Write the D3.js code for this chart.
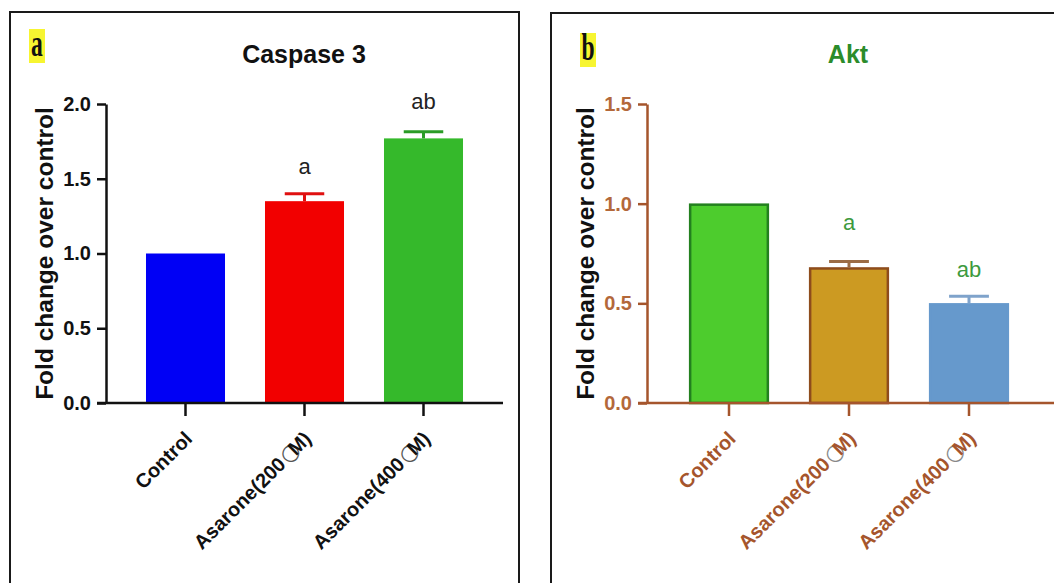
<!DOCTYPE html>
<html>
<head>
<meta charset="utf-8">
<script src="https://cdn.jsdelivr.net/npm/d3@7"></script>
<style>
  body { margin: 0; background: #fff; }
  svg { display: block; }
  text { font-family: "Liberation Sans", Arial, sans-serif; }
</style>
</head>
<body>
<div id="chart"></div>
<script>
// groups shown on both panels (the micro sign shows up as a circle in the source)
var groups = ["Control", "Asarone(200 \u00b5M)", "Asarone(400 \u00b5M)"];

// Caspase 3
var caspaseMeans = [1.0, 1.35, 1.77];
var caspaseErr = [0, 0.05, 0.045];
var caspaseSig = ["", "a", "ab"];
var caspaseTicks = [0, 0.5, 1.0, 1.5, 2.0];

// Akt
var aktMeans = [1.0, 0.68, 0.50];
var aktErr = [0, 0.03, 0.035];
var aktSig = ["", "a", "ab"];
var aktTicks = [0, 0.5, 1.0, 1.5];

var width = 1054, height = 583;

var svg = d3.select("#chart")
    .append("svg")
    .attr("width", width)
    .attr("height", height);

// panel frames (bottom runs off the picture)
svg.append("path")
    .attr("d", "M10,590V12H519V590")
    .attr("fill", "none")
    .attr("stroke", "#1a1a1a")
    .attr("stroke-width", 2);
svg.append("path")
    .attr("d", "M551,590V13H1060")
    .attr("fill", "none")
    .attr("stroke", "#1a1a1a")
    .attr("stroke-width", 2);

function drawPanel(opt) {
    var g = svg.append("g");

    var x = d3.scaleBand()
        .domain(groups)
        .range(opt.xRange)
        .paddingInner(0.336)
        .paddingOuter(0.168);

    var y = d3.scaleLinear()
        .domain([0, opt.yMax])
        .range([403, 104]);

    // panel letter with yellow highlight
    g.append("rect")
        .attr("x", opt.tag.x - 8).attr("y", opt.tag.y - 26)
        .attr("width", 16).attr("height", 34)
        .attr("fill", "#f7f531");
    g.append("text")
        .attr("transform", "translate(" + opt.tag.x + "," + (opt.tag.y + 1) + ") scale(0.62,1)")
        .attr("text-anchor", "middle")
        .style("font-family", "'Liberation Serif', 'Times New Roman', serif")
        .style("font-weight", "bold")
        .style("font-size", "38px")
        .attr("fill", "#111")
        .text(opt.tag.label);

    // title
    g.append("text")
        .attr("x", opt.titleX).attr("y", 63)
        .attr("text-anchor", "middle")
        .style("font-weight", "bold")
        .style("font-size", "25px")
        .attr("fill", opt.titleColor)
        .text(opt.title);

    // bars
    g.selectAll(".bar")
        .data(opt.means)
        .enter()
        .append("rect")
        .attr("x", function(d, i) { return x(groups[i]) + opt.barInset; })
        .attr("y", function(d) { return y(d) + opt.barInset; })
        .attr("width", x.bandwidth() - 2 * opt.barInset)
        .attr("height", function(d) { return y(0) - y(d) - opt.barInset; })
        .attr("fill", function(d, i) { return opt.fills[i]; })
        .attr("stroke", function(d, i) { return opt.strokes[i]; })
        .attr("stroke-width", opt.barStroke);

    // error bars (upper half only)
    opt.means.forEach(function(m, i) {
        if (opt.err[i] == 0) return;
        var cx = x(groups[i]) + x.bandwidth() / 2;
        var half = x.bandwidth() / 4;
        g.append("line")
            .attr("x1", cx).attr("x2", cx)
            .attr("y1", y(m)).attr("y2", y(m + opt.err[i]))
            .attr("stroke", opt.errColors[i]).attr("stroke-width", 3);
        g.append("line")
            .attr("x1", cx - half).attr("x2", cx + half)
            .attr("y1", y(m + opt.err[i])).attr("y2", y(m + opt.err[i]))
            .attr("stroke", opt.errColors[i]).attr("stroke-width", 3);
    });

    // significance letters
    g.selectAll(".sig")
        .data(opt.sig)
        .enter()
        .append("text")
        .attr("x", function(d, i) { return x(groups[i]) + x.bandwidth() / 2; })
        .attr("y", function(d, i) { return opt.sigY[i]; })
        .attr("text-anchor", "middle")
        .style("font-size", "22px")
        .attr("fill", opt.sigColor)
        .text(function(d) { return d; });

    // y axis
    var yAxis = d3.axisLeft(y)
        .tickValues(opt.ticks)
        .tickFormat(d3.format(".1f"))
        .tickSize(9)
        .tickSizeOuter(0)
        .tickPadding(6);
    var ya = g.append("g")
        .attr("transform", "translate(" + opt.axisX + ",0)")
        .call(yAxis);
    ya.select(".domain").attr("stroke", opt.axisColor).attr("stroke-width", 2.5);
    ya.selectAll(".tick line").attr("stroke", opt.axisColor).attr("stroke-width", 2.5);
    ya.selectAll(".tick text")
        .attr("fill", opt.tickTextColor)
        .style("font-family", "'Liberation Sans', Arial, sans-serif")
        .style("font-weight", "bold")
        .style("font-size", "20px");

    // x axis
    g.append("line")
        .attr("x1", opt.axisX - 9).attr("x2", opt.xEnd)
        .attr("y1", y(0)).attr("y2", y(0))
        .attr("stroke", opt.axisColor).attr("stroke-width", 2.5);
    var xAxis = d3.axisBottom(x).tickSize(13).tickSizeOuter(0).tickFormat("");
    var xa = g.append("g")
        .attr("transform", "translate(0," + y(0) + ")")
        .call(xAxis);
    xa.select(".domain").remove();
    xa.selectAll(".tick line").attr("stroke", opt.axisColor).attr("stroke-width", 2.5);

    // rotated category labels
    groups.forEach(function(name, i) {
        var cx = x(name) + x.bandwidth() / 2;
        var t = g.append("text")
            .attr("transform", "translate(" + (cx + 8) + ",440) rotate(-45)")
            .attr("text-anchor", "end")
            .style("font-weight", "bold")
            .style("font-size", "20px")
            .attr("fill", opt.labelColor);
        var parts = name.split("\u00b5");
        if (parts.length == 1) {
            t.text(name);
        } else {
            t.append("tspan").text(parts[0]);
            t.append("tspan")
                .style("font-family", "'DejaVu Sans', sans-serif")
                .style("font-weight", "normal")
                .style("font-size", "22px")
                .attr("fill", opt.glyphColor)
                .attr("dx", -4)
                .text("\u25cb");
            t.append("tspan").attr("dx", -8).text(parts[1]);
        }
    });

    // y axis title
    g.append("text")
        .attr("transform", "translate(" + opt.yLabelX + "," + ((y(0) + y(opt.yMax)) / 2) + ") rotate(-90)")
        .attr("text-anchor", "middle")
        .style("font-weight", "bold")
        .style("font-size", "24.5px")
        .attr("fill", "#111")
        .text("Fold change over control");
}

drawPanel({
    tag: { label: "a", x: 37, y: 55 },
    title: "Caspase 3",
    titleColor: "#111",
    titleX: 304,
    xRange: [126, 483],
    xEnd: 503,
    axisX: 106,
    yMax: 2.0,
    ticks: caspaseTicks,
    means: caspaseMeans,
    err: caspaseErr,
    sig: caspaseSig,
    sigY: [0, 174, 109],
    sigColor: "#222",
    fills: ["#0000f5", "#f20000", "#35b92b"],
    strokes: ["#0000f5", "#f20000", "#35b92b"],
    barStroke: 0,
    barInset: 0,
    errColors: ["#0000f5", "#e01010", "#2a9c26"],
    axisColor: "#111",
    tickTextColor: "#111",
    labelColor: "#111",
    glyphColor: "#555",
    yLabelX: 53
});

drawPanel({
    tag: { label: "b", x: 588, y: 59 },
    title: "Akt",
    titleColor: "#2b8c2b",
    titleX: 848,
    xRange: [669, 1029],
    xEnd: 1060,
    axisX: 647,
    yMax: 1.5,
    ticks: aktTicks,
    means: aktMeans,
    err: aktErr,
    sig: aktSig,
    sigY: [0, 230, 277],
    sigColor: "#3d9a3d",
    fills: ["#4dcc2d", "#cc9a22", "#6699cc"],
    strokes: ["#23801f", "#8e4c1c", "#6699cc"],
    barStroke: 2.5,
    barInset: 1,
    errColors: ["#23801f", "#9c6c45", "#7fa3cb"],
    axisColor: "#a5552c",
    tickTextColor: "#b3683a",
    labelColor: "#a5552c",
    glyphColor: "#888",
    yLabelX: 594
});
</script>
</body>
</html>
